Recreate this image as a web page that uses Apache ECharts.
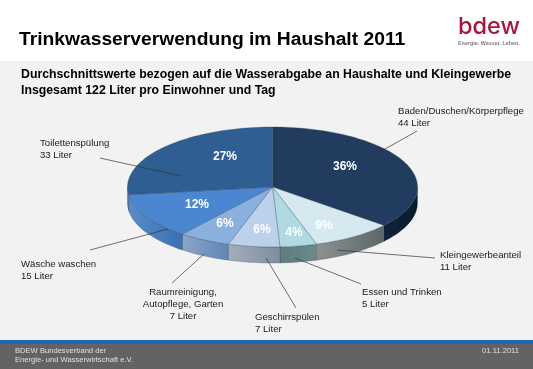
<!DOCTYPE html>
<html>
<head>
<meta charset="utf-8">
<style>html,body{margin:0;padding:0;background:#fff}#box{width:533px;height:369px}</style>
<script src="https://cdn.jsdelivr.net/npm/echarts@6/dist/echarts.min.js"></script>
</head>
<body>
<div id="box"></div>
<script>
// Werte aus dem Bild, im Uhrzeigersinn ab 12 Uhr
var names = ['Baden/Duschen/Körperpflege', 'Kleingewerbeanteil', 'Essen und Trinken', 'Geschirrspülen', 'Raumreinigung, Autopflege, Garten', 'Wäsche waschen', 'Toilettenspülung'];
var liters = [44, 11, 5, 7, 7, 15, 33];
var percents = ['36%', '9%', '4%', '6%', '6%', '12%', '27%'];

// Darstellung
var topColors = ['#213c5f', '#d6e9f0', '#b1d9e1', '#bdd1ec', '#8bb0dd', '#4b86d0', '#2f5e92'];
var wallColors = [['#0b1a2e', '#10233b'], ['#5c6767', '#8b9292'], ['#6a8a8c', '#5f7c80'], ['#7f8da0', '#a2aebd'], ['#5f86b5', '#8aa6c6'], ['#3b6fb2', '#5a8cc8'], ['#3b6fb2', '#3b6fb2']];
var pctPos = [[345, 167], [324, 226], [294, 233], [262, 230], [225, 224], [197, 205], [225, 157]];
var leaders = [[[362, 162], [417, 131]], [[337, 250], [435, 258]], [[295, 258], [361, 284]], [[266, 258], [296, 308]], [[204, 254], [172, 283]], [[168, 229], [90, 250]], [[181, 176], [100, 158]]];
var labels = [
	{ x: 398, y: 105, t: 'Baden/Duschen/Körperpflege\n44 Liter' },
	{ x: 440, y: 249, t: 'Kleingewerbeanteil\n11 Liter' },
	{ x: 362, y: 286, t: 'Essen und Trinken\n5 Liter' },
	{ x: 255, y: 311, t: 'Geschirrspülen\n7 Liter' },
	{ x: 183, y: 286, t: 'Raumreinigung,\nAutopflege, Garten\n7 Liter', a: 'center' },
	{ x: 21, y: 258, t: 'Wäsche waschen\n15 Liter' },
	{ x: 40, y: 137, t: 'Toilettenspülung\n33 Liter' }
];

var cx = 272.5, cy = 187, rx = 145, ry = 60, depth = 16;
var total = liters.reduce(function(a, b) { return a + b; }, 0);

function pt(t, dy) {
	return [cx + rx * Math.sin(t), cy - ry * Math.cos(t) + (dy || 0)];
}

function sliceRange(i) {
	var sum = 0;
	for (var k = 0; k < i; k++) sum += liters[k];
	return [sum / total * Math.PI * 2, (sum + liters[i]) / total * Math.PI * 2];
}

function arc(a, b, dy) {
	var pts = [], n = Math.max(2, Math.ceil((b - a) / 0.03));
	for (var k = 0; k <= n; k++) pts.push(pt(a + (b - a) * k / n, dy));
	return pts;
}

function renderTop(params) {
	var r = sliceRange(params.dataIndex);
	return {
		type: 'polygon',
		shape: { points: [[cx, cy]].concat(arc(r[0], r[1])) },
		style: { fill: topColors[params.dataIndex], stroke: 'rgba(50,70,90,0.55)', lineWidth: 0.6 }
	};
}

function renderWall(params) {
	var r = sliceRange(params.dataIndex);
	// nur der vordere Teil der Wand ist sichtbar
	var a = Math.max(r[0], Math.PI / 2), b = Math.min(r[1], Math.PI * 1.5);
	if (b <= a) return null;
	var upper = arc(a, b), lower = arc(a, b, depth).reverse();
	var c = wallColors[params.dataIndex];
	return {
		type: 'polygon',
		shape: { points: upper.concat(lower) },
		style: {
			fill: new echarts.graphic.LinearGradient(0, 0, 1, 0, [{ offset: 0, color: c[1] }, { offset: 1, color: c[0] }]),
			stroke: 'rgba(50,60,70,0.5)',
			lineWidth: 0.5
		}
	};
}

var elements = [
	{ type: 'rect', z: -10, shape: { x: 0, y: 61, width: 533, height: 279 }, style: { fill: '#f2f2f2' } },
	{ type: 'rect', z: -10, shape: { x: 0, y: 340, width: 533, height: 4 }, style: { fill: '#1a69ad' } },
	{ type: 'rect', z: -10, shape: { x: 0, y: 344, width: 533, height: 25 }, style: { fill: '#636363' } },
	{ type: 'text', x: 19, y: 30, style: { text: 'Trinkwasserverwendung im Haushalt 2011', font: 'bold 19.25px "Liberation Sans"', fill: '#000' } },
	{ type: 'text', x: 21, y: 67, style: { text: 'Durchschnittswerte bezogen auf die Wasserabgabe an Haushalte und Kleingewerbe\nInsgesamt 122 Liter pro Einwohner und Tag', font: 'bold 12.3px "Liberation Sans"', lineHeight: 16, fill: '#000' } },
	{ type: 'text', x: 458, y: 15, style: { text: 'bdew', font: '500 23.5px "Inter"', fill: '#a5173f' } },
	{ type: 'text', x: 458, y: 41, style: { text: 'Energie. Wasser. Leben.', font: 'bold 5.4px "Liberation Sans"', fill: '#7d7d7d' } },
	{ type: 'text', x: 15, y: 347, style: { text: 'BDEW Bundesverband der\nEnergie- und Wasserwirtschaft e.V.', font: '7.6px "Liberation Sans"', lineHeight: 8.5, fill: '#e0e0e0' } },
	{ type: 'text', x: 519, y: 347, style: { text: '01.11.2011', font: '7.6px "Liberation Sans"', align: 'right', fill: '#e0e0e0' } }
];

leaders.forEach(function(l) {
	elements.push({ type: 'line', z: 20, shape: { x1: l[0][0], y1: l[0][1], x2: l[1][0], y2: l[1][1] }, style: { stroke: '#333', lineWidth: 0.7 } });
});
labels.forEach(function(l) {
	elements.push({ type: 'text', z: 20, x: l.x, y: l.y, style: { text: l.t, font: '9.6px "Liberation Sans"', lineHeight: 12, align: l.a || 'left', verticalAlign: 'top', fill: '#1a1a1a' } });
});
percents.forEach(function(p, i) {
	elements.push({ type: 'text', z: 21, x: pctPos[i][0], y: pctPos[i][1], style: { text: p, font: 'bold 12px "Liberation Sans"', align: 'center', verticalAlign: 'middle', fill: '#fff' } });
});

var chart = echarts.init(document.getElementById('box'));
chart.setOption({
	animation: false,
	backgroundColor: '#fff',
	graphic: { elements: elements },
	series: [
		{ type: 'custom', name: 'wand', coordinateSystem: 'none', z: 2, silent: true, renderItem: renderWall, data: liters },
		{ type: 'custom', name: 'oben', coordinateSystem: 'none', z: 3, silent: true, renderItem: renderTop, data: liters.map(function(v, i) { return { name: names[i], value: v }; }) }
	]
});
</script>
</body>
</html>
